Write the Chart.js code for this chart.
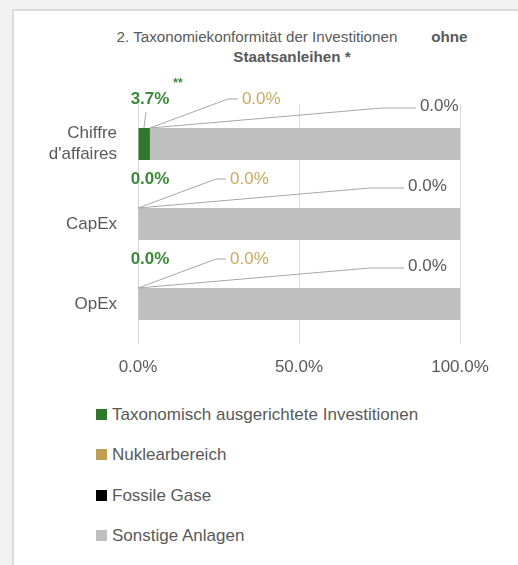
<!DOCTYPE html>
<html>
<head>
<meta charset="utf-8">
<script src="https://cdn.jsdelivr.net/npm/chart.js@4.4.1/dist/chart.umd.min.js"></script>
<style>
  body { margin: 0; background: #f1f1f1; width: 518px; height: 565px; overflow: hidden; position: relative; font-family: "Liberation Sans Narrow", "Liberation Sans", sans-serif; }
  #card { position: absolute; left: 12px; top: 9px; width: 520px; height: 570px; background: #fff; border: 2px solid #dcdcdc; box-sizing: border-box; }
  #titel { position: absolute; left: 92px; top: 27px; width: 400px; text-align: center; color: #595959; font-size: 15.2px; line-height: 20px; white-space: nowrap; }
  #chart { position: absolute; left: 0; top: 0; }
  #legende { position: absolute; left: 96px; top: 404px; color: #595959; font-size: 17px; }
  #legende div { height: 40.3px; line-height: 22px; white-space: nowrap; }
  #legende span.box { display: inline-block; width: 11px; height: 11px; margin-right: 5px; vertical-align: 0px; }
</style>
</head>
<body>
<div id="card"></div>
<div id="titel">2. Taxonomiekonformität der Investitionen&nbsp;&nbsp;&nbsp;&nbsp;&nbsp;&nbsp;&nbsp;&nbsp;<b>ohne</b><br><b>Staatsanleihen *</b></div>
<canvas id="chart" width="518" height="400"></canvas>
<div id="legende"></div>
<script>
// Daten
const kategorien = [["Chiffre", "d'affaires"], "CapEx", "OpEx"];
const serien = ["Taxonomisch ausgerichtete Investitionen", "Nuklearbereich", "Fossile Gase", "Sonstige Anlagen"];
const taxonomisch = [3.7, 0, 0];
const nuklear = [0, 0, 0];
const fossil = [0, 0, 0];
const sonstige = [96.3, 100, 100];
const fussnoten = ["**", "", ""];
const xTicks = [0, 50, 100];

const farben = ["#2e772b", "#bf9f55", "#000000", "#bfbfbf"];
const textFarben = ["#3b8a36", "#c8ab62", "#595959"];
const schrift = '"Liberation Sans Narrow", "Liberation Sans", sans-serif';

// Legende
const legende = document.getElementById('legende');
serien.forEach((name, i) => {
    const div = document.createElement('div');
    div.innerHTML = `<span class="box" style="background:${farben[i]}"></span>${name}`;
    legende.appendChild(div);
});

// Beschriftungen mit Führungslinien
const beschriftungen = {
    id: 'beschriftungen',
    afterDatasetsDraw(chart) {
        const ctx = chart.ctx;
        const x = chart.scales.x;
        const meta = chart.getDatasetMeta(0);
        ctx.save();
        ctx.lineWidth = 1;
        ctx.strokeStyle = '#a6a6a6';
        ctx.textBaseline = 'middle';
        kategorien.forEach((k, i) => {
            const oben = meta.data[i].y - meta.data[i].height / 2;
            const s0 = taxonomisch[i];
            const s1 = s0 + nuklear[i];
            const s2 = s1 + fossil[i];
            const fmt = v => v.toFixed(1) + '%';

            // grün
            const gx = (x.getPixelForValue(0) + x.getPixelForValue(s0)) / 2;
            const gTextX = x.getPixelForValue(0) + 12;
            const gy = oben - 29;
            ctx.font = 'bold 17px ' + schrift;
            ctx.fillStyle = textFarben[0];
            ctx.textAlign = 'center';
            const gt = fmt(taxonomisch[i]);
            ctx.fillText(gt, gTextX, gy);
            if (s0 > 0) {
                ctx.beginPath();
                ctx.moveTo(gx + 2, gy + 13);
                ctx.lineTo(gx, oben);
                ctx.stroke();
            }
            if (fussnoten[i]) {
                const w = ctx.measureText(gt).width;
                ctx.font = 'bold 12px ' + schrift;
                ctx.textAlign = 'left';
                ctx.fillText(fussnoten[i], gTextX + w / 2 + 4, gy - 15);
            }

            // nuklear
            const nx = x.getPixelForValue(s1);
            const nTextX = nx + 92;
            const ny = oben - 29;
            ctx.beginPath();
            ctx.moveTo(nx, oben);
            ctx.lineTo(nTextX - 14, ny);
            ctx.lineTo(nTextX - 4, ny);
            ctx.stroke();
            ctx.font = '17px ' + schrift;
            ctx.fillStyle = textFarben[1];
            ctx.textAlign = 'left';
            ctx.fillText(fmt(nuklear[i]), nTextX, ny);

            // fossil
            const fx = x.getPixelForValue(s2);
            const fTextX = fx + 270;
            const fy = oben - 22;
            ctx.beginPath();
            ctx.moveTo(fx, oben);
            ctx.lineTo(fTextX - 38, fy + 2);
            ctx.lineTo(fTextX - 4, fy + 2);
            ctx.stroke();
            ctx.fillStyle = textFarben[2];
            ctx.fillText(fmt(fossil[i]), fTextX, fy);
        });
        ctx.restore();
    }
};

const datasets = [taxonomisch, nuklear, fossil, sonstige].map((werte, i) => ({
    label: serien[i],
    data: werte,
    backgroundColor: farben[i],
    borderWidth: 0,
    barPercentage: 0.4,
    categoryPercentage: 1
}));

new Chart(document.getElementById('chart'), {
    type: 'bar',
    data: { labels: kategorien, datasets: datasets },
    plugins: [beschriftungen],
    options: {
        indexAxis: 'y',
        responsive: false,
        animation: false,
        devicePixelRatio: 1,
        layout: { padding: { top: 104, right: 58, left: 0, bottom: 0 } },
        plugins: { legend: { display: false }, tooltip: { enabled: false } },
        scales: {
            x: {
                stacked: true,
                min: 0,
                max: 100,
                afterFit: s => { s.height = 56; },
                afterBuildTicks: s => { s.ticks = xTicks.map(v => ({ value: v })); },
                grid: { color: '#d9d9d9', drawTicks: false },
                border: { display: false },
                ticks: {
                    padding: 13,
                    color: '#595959',
                    font: { family: schrift, size: 17 },
                    callback: v => v.toFixed(1) + '%'
                }
            },
            y: {
                stacked: true,
                afterFit: s => { s.width = 138; },
                grid: { display: false, drawTicks: false },
                border: { display: false },
                ticks: {
                    padding: 21,
                    color: '#595959',
                    font: { family: schrift, size: 17 }
                }
            }
        }
    }
});
</script>
</body>
</html>
